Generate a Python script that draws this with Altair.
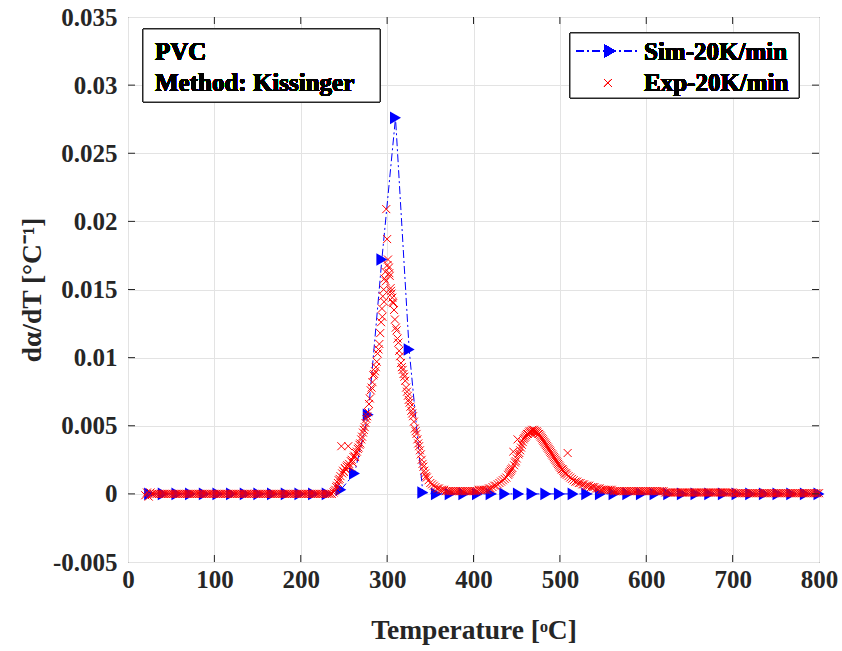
import altair as alt
import pandas as pd

# ---------------- data ----------------
x_ticks = [0, 100, 200, 300, 400, 500, 600, 700, 800]
y_ticks = [-0.005, 0.0, 0.005, 0.01, 0.015, 0.02, 0.025, 0.03, 0.035]

sim_T = [25.0, 40.8, 56.6, 72.4, 88.3, 104.1, 119.9, 135.7, 151.5, 167.3,
         183.2, 199.0, 214.8, 230.6, 246.4, 262.2, 278.1, 293.9, 309.7, 325.5,
         341.3, 357.1, 373.0, 388.8, 404.6, 420.4, 436.2, 452.0, 467.8, 483.7,
         499.5, 515.3, 531.1, 546.9, 562.7, 578.6, 594.4, 610.2, 626.0, 641.8,
         657.6, 673.5, 689.3, 705.1, 720.9, 736.7, 752.5, 768.4, 784.2, 800.0]
sim_v = [0.0, 0.0, 0.0, 0.0, 0.0, 0.0, 0.0, 0.0, 0.0, 0.0,
         0.0, 0.0, 0.0, 0.0, 0.0003, 0.0015, 0.0058, 0.0172, 0.0276, 0.0106,
         0.0001, 0.0, 0.0, 0.0, 0.0, 0.0, 0.0, 0.0, 0.0, 0.0,
         0.0, 0.0, 0.0, 0.0, 0.0, 0.0, 0.0, 0.0, 0.0, 0.0,
         0.0, 0.0, 0.0, 0.0, 0.0, 0.0, 0.0, 0.0, 0.0, 0.0]

# experimental: baseline before decomposition
exp_base_T = [20, 22, 24, 26, 28, 30, 32, 34, 36, 38,
              40, 42, 44, 46, 48, 50, 52, 54, 56, 58,
              60, 62, 64, 66, 68, 70, 72, 74, 76, 78,
              80, 82, 84, 86, 88, 90, 92, 94, 96, 98,
              100, 102, 104, 106, 108, 110, 112, 114, 116, 118,
              120, 122, 124, 126, 128, 130, 132, 134, 136, 138,
              140, 142, 144, 146, 148, 150, 152, 154, 156, 158,
              160, 162, 164, 166, 168, 170, 172, 174, 176, 178,
              180, 182, 184, 186, 188, 190, 192, 194, 196, 198,
              200, 202, 204, 206, 208, 210, 212, 214, 216, 218,
              220, 222, 224, 226, 228, 230, 232, 234, 236, 238]
exp_base_v = [-0.0001, 0.0001, -0.0002, 0.0001, 0.0, 0.0, 0.0, 0.0, 0.0, 0.0,
              0.0, 0.0, 0.0, 0.0, 0.0, 0.0, 0.0, 0.0, 0.0, 0.0,
              0.0, 0.0, 0.0, 0.0, 0.0, 0.0, 0.0, 0.0, 0.0, 0.0,
              0.0, 0.0, 0.0, 0.0, 0.0, 0.0, 0.0, 0.0, 0.0, 0.0,
              0.0, 0.0, 0.0, 0.0, 0.0, 0.0, 0.0, 0.0, 0.0, 0.0,
              0.0, 0.0, 0.0, 0.0, 0.0, 0.0, 0.0, 0.0, 0.0, 0.0,
              0.0, 0.0, 0.0, 0.0, 0.0, 0.0, 0.0, 0.0, 0.0, 0.0,
              0.0, 0.0, 0.0, 0.0, 0.0, 0.0, 0.0, 0.0, 0.0, 0.0,
              0.0, 0.0, 0.0, 0.0, 0.0, 0.0, 0.0, 0.0, 0.0, 0.0,
              0.0, 0.0, 0.0, 0.0, 0.0, 0.0, 0.0, 0.0, 0.0, 0.0,
              0.0, 0.0, 0.0, 0.0, 0.0, 0.0, 0.0, 0.0, 0.0, 0.0001]

# experimental: first (main) peak
exp_peak1_T = [239, 240, 241, 242, 243, 244, 245, 246, 247, 248,
               249, 250, 251, 252, 253, 254, 255, 256, 257, 258,
               259, 260, 261, 262, 263, 264, 265, 266, 267, 268,
               269, 270, 271, 272, 273, 274, 275, 276, 277, 278,
               279, 280, 281, 282, 283, 284, 285, 286, 287, 288,
               289, 290, 291, 292, 293, 294, 295, 296, 297, 298,
               299, 300, 301, 302, 303, 304, 305, 306, 307, 308,
               309, 310, 311, 312, 313, 314, 315, 316, 317, 318,
               319, 320, 321, 322, 323, 324, 325, 326, 327, 328,
               329, 330, 331, 332, 333, 334, 335, 336, 337, 338,
               339, 340, 341, 342, 343, 344, 345, 346,
               294.5, 296.5, 298.5, 300.5, 302.5, 304.5, 306.5]
exp_peak1_v = [0.0002, 0.0003, 0.0005, 0.0006, 0.0008, 0.0010, 0.0011, 0.0013, 0.0035, 0.0015,
               0.0017, 0.0016, 0.0019, 0.0018, 0.0020, 0.0021, 0.0035, 0.0022, 0.0020, 0.0024,
               0.0025, 0.0023, 0.0027, 0.0028, 0.0027, 0.0030, 0.0031, 0.0033, 0.0034, 0.0036,
               0.0037, 0.0040, 0.0042, 0.0045, 0.0047, 0.0049, 0.0052, 0.0055, 0.0057, 0.0060,
               0.0066, 0.0070, 0.0076, 0.0078, 0.0082, 0.0087, 0.0088, 0.0090, 0.0093, 0.0097,
               0.0103, 0.0106, 0.0110, 0.0118, 0.0126, 0.0136, 0.0145, 0.0150, 0.0158, 0.0163,
               0.0209, 0.0187, 0.0172, 0.0166, 0.0160, 0.0151, 0.0147, 0.0144, 0.0140, 0.0135,
               0.0128, 0.0122, 0.0120, 0.0114, 0.0111, 0.0105, 0.0101, 0.0096, 0.0093, 0.0091,
               0.0088, 0.0086, 0.0083, 0.0078, 0.0075, 0.0072, 0.0069, 0.0067, 0.0064, 0.0061,
               0.0059, 0.0057, 0.0053, 0.0048, 0.0046, 0.0044, 0.0040, 0.0037, 0.0035, 0.0032,
               0.0029, 0.0025, 0.0022, 0.0020, 0.0017, 0.0015, 0.0013, 0.0012,
               0.0130, 0.0141, 0.0156, 0.0168, 0.0162, 0.0149, 0.0141]

# experimental: trough between peaks
exp_trough_T = [348, 350, 352, 354, 356, 358, 360, 362, 364, 366,
                368, 370, 372, 374, 376, 378, 380, 382, 384, 386,
                388, 390, 392, 394, 396, 398, 400, 402, 404, 406,
                408, 410, 412, 414, 416, 418, 420, 422, 424, 426,
                428, 430, 432, 434, 436, 438, 440]
exp_trough_v = [0.0010, 0.0008, 0.0007, 0.0006, 0.0005, 0.0004, 0.0004, 0.0003, 0.0003, 0.0003,
                0.0002, 0.0002, 0.0002, 0.0002, 0.0002, 0.0002, 0.0002, 0.0002, 0.0002, 0.0002,
                0.0002, 0.0002, 0.0002, 0.0002, 0.0002, 0.0002, 0.0002, 0.0002, 0.0002, 0.0003,
                0.0003, 0.0003, 0.0003, 0.0003, 0.0003, 0.0004, 0.0004, 0.0005, 0.0006, 0.0006,
                0.0007, 0.0008, 0.0009, 0.0010, 0.0011, 0.0012, 0.0014]

# experimental: second peak
exp_peak2_T = [441, 442, 443, 444, 445, 446, 447, 448, 449, 450,
               451, 452, 453, 454, 455, 456, 457, 458, 459, 460,
               461, 462, 463, 464, 465, 466, 467, 468, 469, 470,
               471, 472, 473, 474, 475, 476, 477, 478, 479, 480,
               481, 482, 483, 484, 485, 486, 487, 488, 489, 490,
               491, 492, 493, 494, 495, 496, 497, 498, 499, 500,
               501, 502, 503, 504, 505, 506, 507, 508, 509, 510]
exp_peak2_v = [0.0015, 0.0016, 0.0017, 0.0018, 0.0019, 0.0031, 0.0021, 0.0023, 0.0024, 0.0026,
               0.0040, 0.0029, 0.0030, 0.0032, 0.0034, 0.0036, 0.0038, 0.0040, 0.0041, 0.0042,
               0.0043, 0.0044, 0.0044, 0.0045, 0.0046, 0.0045, 0.0046, 0.0047, 0.0046, 0.0047,
               0.0046, 0.0045, 0.0046, 0.0045, 0.0044, 0.0044, 0.0043, 0.0042, 0.0041, 0.0040,
               0.0039, 0.0038, 0.0037, 0.0036, 0.0035, 0.0034, 0.0033, 0.0032, 0.0031, 0.0030,
               0.0029, 0.0028, 0.0027, 0.0026, 0.0025, 0.0024, 0.0023, 0.0022, 0.0021, 0.0020,
               0.0019, 0.0018, 0.0018, 0.0017, 0.0016, 0.0015, 0.0015, 0.0014, 0.0030, 0.0013]

# experimental: tail after the second peak
exp_tail_T = [512, 514, 516, 518, 520, 522, 524, 526, 528, 530,
              532, 534, 536, 538, 540, 542, 544, 546, 548, 550,
              552, 554, 556, 558, 560, 562, 564, 566, 568, 570,
              572, 574, 576, 578, 580, 582, 584, 586, 588, 590,
              592, 594, 596, 598, 600, 602, 604, 606, 608, 610,
              612, 614, 616, 618, 620, 622, 624, 626, 628, 630,
              632, 634, 636, 638, 640, 642, 644, 646, 648, 650,
              652, 654, 656, 658, 660, 662, 664, 666, 668, 670,
              672, 674, 676, 678, 680, 682, 684, 686, 688, 690,
              692, 694, 696, 698, 700, 702, 704, 706, 708, 710,
              712, 714, 716, 718, 720, 722, 724, 726, 728, 730,
              732, 734, 736, 738, 740, 742, 744, 746, 748, 750,
              752, 754, 756, 758, 760, 762, 764, 766, 768, 770,
              772, 774, 776, 778, 780, 782, 784, 786, 788, 790,
              792, 794, 796, 798, 800]
exp_tail_v = [0.0012, 0.0011, 0.0010, 0.0009, 0.0009, 0.0008, 0.0008, 0.0007, 0.0007, 0.0006,
              0.0006, 0.0006, 0.0005, 0.0005, 0.0005, 0.0004, 0.0004, 0.0004, 0.0003, 0.0003,
              0.0003, 0.0003, 0.0003, 0.0003, 0.0003, 0.0002, 0.0002, 0.0002, 0.0002, 0.0002,
              0.0002, 0.0002, 0.0002, 0.0002, 0.0002, 0.0002, 0.0002, 0.0002, 0.0002, 0.0002,
              0.0002, 0.0002, 0.0002, 0.0002, 0.0002, 0.0002, 0.0002, 0.0002, 0.0002, 0.0002,
              0.0002, 0.0002, 0.0002, 0.0002, 0.0002, 0.0001, 0.0001, 0.0001, 0.0001, 0.0001,
              0.0001, 0.0001, 0.0001, 0.0001, 0.0001, 0.0001, 0.0001, 0.0001, 0.0001, 0.0001,
              0.0001, 0.0001, 0.0001, 0.0001, 0.0001, 0.0001, 0.0001, 0.0001, 0.0001, 0.0001,
              0.0001, 0.0001, 0.0001, 0.0001, 0.0001, 0.0001, 0.0001, 0.0001, 0.0001, 0.0001,
              0.0001, 0.0001, 0.0001, 0.0001, 0.0001, 0.00005, 0.00005, 0.00005, 0.00005, 0.00005,
              0.00005, 0.00005, 0.00005, 0.00005, 0.00005, 0.00005, 0.00005, 0.00005, 0.00005, 0.00005,
              0.00005, 0.00005, 0.00005, 0.00005, 0.00005, 0.00005, 0.00005, 0.00005, 0.00005, 0.00005,
              0.00005, 0.00005, 0.00005, 0.00005, 0.00005, 0.00005, 0.00005, 0.00005, 0.00005, 0.00005,
              0.00005, 0.00005, 0.00005, 0.00005, 0.00005, 0.00005, 0.00005, 0.00005, 0.00005, 0.00005,
              0.00005, 0.00005, 0.00005, 0.00005, 0.00005]

exp_T = exp_base_T + exp_peak1_T + exp_trough_T + exp_peak2_T + exp_tail_T
exp_v = exp_base_v + exp_peak1_v + exp_trough_v + exp_peak2_v + exp_tail_v

sim_df = pd.DataFrame({"T": sim_T, "v": sim_v})
exp_df = pd.DataFrame({"T": exp_T, "v": exp_v})
xt_df = pd.DataFrame({"T": x_ticks[1:-1]})
yt_df = pd.DataFrame({"v": y_ticks[1:-1]})

# ---------------- styling ----------------
W, H = 691, 545
FONT = "Liberation Serif"
DARK = "#262626"
X_SHAPE = "M-1,-1L1,1M-1,1L1,-1"

xs = alt.Scale(domain=[0, 800], nice=False, zero=False)
ys = alt.Scale(domain=[-0.005, 0.035], nice=False, zero=False)

x_axis = alt.Axis(values=x_ticks, title="Temperature [ᵒC]", grid=True, ticks=False, tickSize=0,
                  domain=False, labelFont=FONT, labelFontSize=25, labelFontWeight="bold",
                  labelColor=DARK, labelPadding=5, labelFlush=False,
                  titleFont=FONT, titleFontSize=27.5, titleFontWeight="bold", titleColor=DARK,
                  titleBaseline="alphabetic", titleY=76,
                  gridColor="#e3e3e3", gridWidth=1)
y_axis = alt.Axis(values=y_ticks, title="dα/dT [°C⁻¹]", grid=True, ticks=False, tickSize=0,
                  domain=False, labelFont=FONT, labelFontSize=25, labelFontWeight="bold",
                  labelColor=DARK, labelPadding=11, labelFlush=False,
                  labelExpr="'' + datum.value",
                  titleFont=FONT, titleFontSize=27.5, titleFontWeight="bold", titleColor=DARK,
                  titleBaseline="middle", titleX=-96,
                  gridColor="#e3e3e3", gridWidth=1)


def X():
    return alt.X("T:Q", scale=xs, axis=x_axis)


def Y():
    return alt.Y("v:Q", scale=ys, axis=y_axis)


sim_line = alt.Chart(sim_df).mark_line(color="#0000ff", strokeWidth=1,
                                       strokeDash=[8, 3, 2, 3]).encode(x=X(), y=Y())
sim_pts = alt.Chart(sim_df).mark_point(shape="triangle-right", filled=True, size=160,
                                       color="#0000ff", opacity=1).encode(x=X(), y=Y())
exp_pts = alt.Chart(exp_df).mark_point(shape=X_SHAPE, filled=False, size=64, strokeWidth=1,
                                       color="#ff0000", opacity=1).encode(x=X(), y=Y())

# inward ticks on all four sides
yt_left = alt.Chart(yt_df).mark_rule(color=DARK, strokeWidth=1).encode(
    y=Y(), x=alt.value(0), x2=alt.value(7))
yt_right = alt.Chart(yt_df).mark_rule(color=DARK, strokeWidth=1).encode(
    y=Y(), x=alt.value(W - 7), x2=alt.value(W))
xt_bottom = alt.Chart(xt_df).mark_rule(color=DARK, strokeWidth=1).encode(
    x=X(), y=alt.value(H - 7), y2=alt.value(H))
xt_top = alt.Chart(xt_df).mark_rule(color=DARK, strokeWidth=1).encode(
    x=X(), y=alt.value(0), y2=alt.value(7))

# annotation box
anno_box = alt.Chart(sim_df).mark_rect(fill="white", stroke=DARK, strokeWidth=1).encode(
    x=alt.value(15), x2=alt.value(252), y=alt.value(12), y2=alt.value(85))
anno_t1 = alt.Chart(sim_df).mark_text(font=FONT, fontSize=25, fontWeight="bold", color="black",
                                      align="left", baseline="middle").encode(
    x=alt.value(27), y=alt.value(35), text=alt.value("PVC"))
anno_t2 = alt.Chart(sim_df).mark_text(font=FONT, fontSize=25, fontWeight="bold", color="black",
                                      align="left", baseline="middle").encode(
    x=alt.value(27), y=alt.value(66), text=alt.value("Method: Kissinger"))

# legend
leg_box = alt.Chart(sim_df).mark_rect(fill="white", stroke=DARK, strokeWidth=1).encode(
    x=alt.value(442), x2=alt.value(671), y=alt.value(16), y2=alt.value(81))
leg_line = alt.Chart(sim_df).mark_rule(color="#0000ff", strokeWidth=1,
                                       strokeDash=[8, 3, 2, 3]).encode(
    x=alt.value(448), x2=alt.value(512), y=alt.value(34))
leg_tri = alt.Chart(sim_df).mark_point(shape="triangle-right", filled=True, size=160,
                                       color="#0000ff", opacity=1).encode(
    x=alt.value(482), y=alt.value(34))
leg_x = alt.Chart(sim_df).mark_point(shape=X_SHAPE, filled=False, size=50, strokeWidth=1,
                                     color="#ff0000", opacity=1).encode(
    x=alt.value(480), y=alt.value(66))
leg_t1 = alt.Chart(sim_df).mark_text(font=FONT, fontSize=25, fontWeight="bold", color="black",
                                     align="left", baseline="middle").encode(
    x=alt.value(516), y=alt.value(35), text=alt.value("Sim-20K/min"))
leg_t2 = alt.Chart(sim_df).mark_text(font=FONT, fontSize=25, fontWeight="bold", color="black",
                                     align="left", baseline="middle").encode(
    x=alt.value(516), y=alt.value(66), text=alt.value("Exp-20K/min"))

chart = alt.layer(
    sim_line, sim_pts, exp_pts,
    yt_left, yt_right, xt_bottom, xt_top,
    anno_box, anno_t1, anno_t2,
    leg_box, leg_line, leg_tri, leg_x, leg_t1, leg_t2,
).properties(
    width=W, height=H,
    autosize=alt.AutoSizeParams(type="none"),
    padding={"left": 128, "top": 17, "right": 23, "bottom": 89},
    background="white",
).configure_view(stroke=DARK, strokeWidth=1)

chart.save("out.html", embed_options={"renderer": "svg", "actions": False})
